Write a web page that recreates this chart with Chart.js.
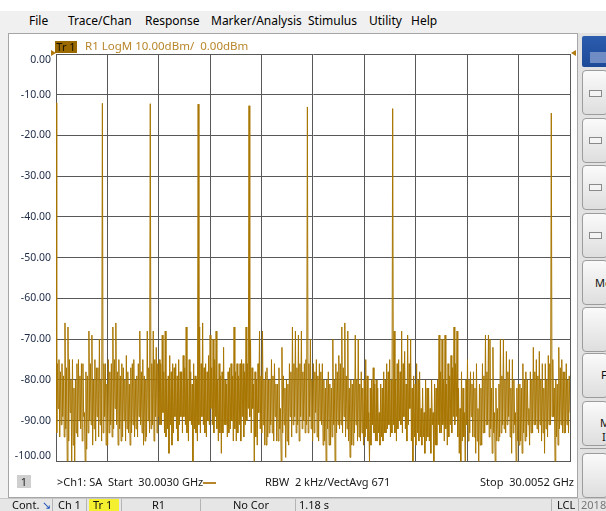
<!DOCTYPE html>
<html>
<head>
<meta charset="utf-8">
<script src="https://cdn.jsdelivr.net/npm/chart.js@4.4.1/dist/chart.umd.min.js"></script>
<style>
  html, body { margin: 0; padding: 0; }
  body {
    width: 606px; height: 511px; position: relative; overflow: hidden;
    background: #f0f0f0; font-family: "Noto Sans", sans-serif; color: #000;
  }
  .abs { position: absolute; white-space: nowrap; }
  .topstrip { left: 0; top: 0; width: 606px; height: 11px; background: #fff; }
  .menu span { position: absolute; top: 13px; font-size: 12px; line-height: 16px; }
  .panel { left: 8px; top: 33px; width: 570px; height: 465px; background: #fff; border: 1px solid #a6a6a6; box-sizing: border-box; }
  #chart { position: absolute; left: 10px; top: 34px; }
  .trbox { left: 55px; top: 41px; width: 22px; height: 12px; background: #9a6a00; color: #1a1200; font-size: 11px; line-height: 12px; text-align: center; }
  .trhead { left: 85px; top: 39px; font-size: 11.5px; line-height: 14px; color: #b8862a; }
  .tri-r { left: 51px; top: 50px; width: 0; height: 0; border-top: 3.5px solid transparent; border-bottom: 3.5px solid transparent; border-left: 5px solid #b07a10; }
  .tri-l { left: 571px; top: 50px; width: 0; height: 0; border-top: 3.5px solid transparent; border-bottom: 3.5px solid transparent; border-right: 5px solid #b07a10; }
  .chbox { left: 17px; top: 475px; width: 14px; height: 13px; background: #cfcfcf; font-size: 11px; line-height: 13px; text-align: center; color: #222; }
  .foot { top: 475px; font-size: 11px; line-height: 14px; color: #1a1a1a; }
  .golddash { left: 203px; top: 482px; width: 13px; height: 2px; background: #b8862a; }
  .side { left: 578px; top: 33px; width: 28px; height: 465px; background: #e2e2e2; }
  .bluebox { left: 582px; top: 36px; width: 24px; height: 31px; background: linear-gradient(#2c5cae, #1d4a98); border-radius: 2px 0 0 2px; }
  .bluein { left: 590px; top: 52px; width: 16px; height: 11px; background: #6f8cc4; }
  .btn { left: 582px; width: 26px; border: 1px solid #9c9c9c; border-radius: 4px; background: linear-gradient(#fafafa, #dedede); box-sizing: border-box; }
  .chk { left: 589px; width: 13px; height: 7px; border: 1px solid #8a8a8a; background: #f4f4f4; box-sizing: border-box; }
  .btxt { font-size: 11px; line-height: 14px; color: #111; }
  .status { left: 0; top: 498px; width: 606px; height: 13px; background: #e6e6e6; border-top: 1px solid #c8c8c8; box-sizing: border-box; }
  .st { top: 498px; font-size: 11px; line-height: 14px; color: #111; }
  .cell { top: 499px; width: 1px; height: 12px; background: #b4b4b4; }
</style>
</head>
<body>
<div class="abs topstrip"></div>
<div class="menu">
  <span style="left:29px">File</span>
  <span style="left:68px">Trace/Chan</span>
  <span style="left:145px">Response</span>
  <span style="left:211px">Marker/Analysis</span>
  <span style="left:308px">Stimulus</span>
  <span style="left:369px">Utility</span>
  <span style="left:411px">Help</span>
</div>

<div class="abs panel"></div>
<canvas id="chart" width="566" height="444"></canvas>

<div class="abs trbox">Tr 1</div>
<div class="abs trhead">R1 LogM 10.00dBm/&nbsp; 0.00dBm</div>
<div class="abs tri-r"></div>
<div class="abs tri-l"></div>

<div class="abs chbox">1</div>
<div class="abs foot" style="left:57px">&gt;Ch1: SA&nbsp; Start&nbsp; 30.0030 GHz</div>
<div class="abs golddash"></div>
<div class="abs foot" style="left:265px">RBW&nbsp; 2 kHz/VectAvg 671</div>
<div class="abs foot" style="left:480px">Stop&nbsp; 30.0052 GHz</div>

<div class="abs side"></div>
<div class="abs bluebox"></div>
<div class="abs bluein"></div>
<div class="abs btn" style="top:70px;height:45px"></div>
<div class="abs chk" style="top:90px"></div>
<div class="abs btn" style="top:118px;height:45px"></div>
<div class="abs chk" style="top:137px"></div>
<div class="abs btn" style="top:165px;height:45px"></div>
<div class="abs chk" style="top:184px"></div>
<div class="abs btn" style="top:213px;height:45px"></div>
<div class="abs chk" style="top:232px"></div>
<div class="abs btn" style="top:260px;height:45px"></div>
<div class="abs btxt" style="left:595px;top:276px">Mo</div>
<div class="abs btn" style="top:307px;height:45px"></div>
<div class="abs btn" style="top:353px;height:45px"></div>
<div class="abs btxt" style="left:601px;top:368px">F</div>
<div class="abs btn" style="top:401px;height:45px"></div>
<div class="abs btxt" style="left:600px;top:416px">M</div>
<div class="abs btxt" style="left:602px;top:430px">I</div>
<div class="abs" style="left:580px;top:448px;width:26px;height:1px;background:#9c9c9c"></div>
<div class="abs btn" style="top:453px;height:45px"></div>

<div class="abs status"></div>
<div class="abs st" style="left:12px">Cont.</div>
<div class="abs st" style="left:42px;color:#1a4fb8">&#8600;</div>
<div class="abs cell" style="left:52px"></div>
<div class="abs st" style="left:58px">Ch 1</div>
<div class="abs cell" style="left:86px"></div>
<div class="abs" style="left:89px;top:499px;width:30px;height:12px;background:#f4f030"></div>
<div class="abs st" style="left:93px">Tr 1</div>
<div class="abs cell" style="left:121px"></div>
<div class="abs st" style="left:152px">R1</div>
<div class="abs cell" style="left:200px"></div>
<div class="abs st" style="left:233px">No Cor</div>
<div class="abs cell" style="left:295px"></div>
<div class="abs st" style="left:299px">1.18 s</div>
<div class="abs cell" style="left:551px"></div>
<div class="abs st" style="left:557px">LCL</div>
<div class="abs cell" style="left:578px"></div>
<div class="abs st" style="left:581px;color:#777">2018</div>

<script>
// sweep settings (MHz)
const startMHz = 30003.0;
const stopMHz = 30005.2;
const gridDivisions = 10;

// y axis ticks (dBm)
const yTickValues = [-100, -90, -80, -70, -60, -50, -40, -30, -20, -10, 0];

// trace levels, evenly spaced across the sweep (dBm)
const traceDbm = [
  -12, -93, -76, -87, -75, -94, -78, -91, -76, -89, -79, -94, -66, -92, -77, -100, -67, -95, -75, -88,
  -80, -100, -75, -96, -82, -100, -80, -93, -76, -94, -75, -90, -79, -92, -76, -95, -76, -89, -88, -100,
  -78, -97, -79, -93, -68, -90, -76, -91, -69, -96, -80, -92, -75, -95, -77, -89, -77, -94, -70, -91,
  -80, -95, -12.1, -93, -76, -89, -76, -96, -81, -96, -75, -93, -78, -91, -76, -94, -67, -92, -75, -87,
  -66, -91, -78, -96, -75, -92, -79, -95, -76, -94, -77, -90, -80, -95, -74, -92, -78, -93, -81, -96,
  -77, -93, -76, -91, -75, -94, -80, -92, -79, -94, -76, -89, -68, -91, -78, -93, -75, -96, -79, -95,
  -80, -94, -68, -90, -77, -93, -12.2, -92, -76, -91, -68, -95, -75, -89, -72, -93, -76, -89, -75, -91,
  -76, -91, -69, -88, -78, -93, -68, -94, -80, -92, -79, -98, -74, -91, -78, -96, -76, -93, -77, -89,
  -76, -92, -79, -95, -75, -91, -78, -89, -78, -93, -74, -89, -77, -91, -67, -93, -80, -95, -75, -90,
  -78, -91, -81, -100, -76, -92, -79, -93, -80, -95, -12.3, -91, -67, -93, -76, -89, -66, -91, -77, -93,
  -76, -94, -78, -90, -74, -91, -69, -87, -77, -91, -70, -93, -75, -89, -68, -92, -80, -95, -76, -93,
  -79, -98, -78, -93, -72, -91, -80, -91, -81, -94, -78, -93, -77, -92, -76, -90, -79, -95, -67, -92,
  -78, -95, -76, -93, -79, -91, -76, -95, -75, -89, -76, -94, -78, -91, -67, -90, -76, -87, -12.7, -89,
  -70, -93, -77, -87, -81, -100, -78, -94, -80, -96, -76, -88, -68, -92, -79, -93, -68, -91, -80, -96,
  -78, -96, -77, -94, -80, -93, -80, -91, -75, -93, -79, -95, -76, -89, -81, -95, -81, -95, -77, -92,
  -87, -100, -72, -93, -79, -91, -82, -99, -80, -95, -81, -96, -76, -89, -78, -94, -67, -91, -76, -89,
  -68, -93, -77, -91, -69, -95, -76, -89, -68, -92, -78, -90, -76, -93, -75, -91, -13.0, -93, -76, -89,
  -70, -92, -80, -95, -76, -93, -78, -88, -75, -94, -79, -95, -76, -90, -78, -91, -76, -96, -80, -95,
  -82, -100, -80, -92, -78, -96, -81, -96, -82, -94, -70, -91, -80, -100, -76, -93, -78, -91, -74, -92,
  -76, -91, -67, -93, -77, -89, -66, -94, -79, -92, -68, -95, -82, -99, -80, -96, -81, -96, -80, -93,
  -69, -91, -80, -95, -70, -94, -81, -95, -78, -93, -82, -96, -80, -94, -75, -92, -79, -95, -88, -100,
  -82, -96, -80, -91, -77, -93, -81, -95, -80, -95, -82, -93, -88, -96, -81, -94, -82, -95, -78, -93,
  -80, -93, -76, -92, -78, -91, -75, -94, -80, -93, -13.4, -91, -68, -93, -80, -95, -76, -92, -75, -90,
  -78, -91, -68, -93, -76, -89, -73, -92, -81, -95, -69, -91, -76, -87, -70, -95, -82, -100, -79, -94,
  -81, -96, -76, -93, -80, -95, -78, -94, -87, -96, -82, -94, -88, -98, -80, -95, -82, -94, -82, -95,
  -87, -98, -80, -91, -88, -100, -81, -96, -82, -96, -80, -91, -69, -93, -78, -93, -70, -91, -80, -95,
  -69, -92, -81, -96, -76, -94, -79, -91, -74, -93, -77, -89, -67, -91, -76, -89, -68, -94, -82, -98,
  -87, -100, -78, -95, -82, -94, -88, -100, -80, -91, -75, -95, -80, -93, -78, -89, -81, -94, -78, -94,
  -82, -98, -76, -95, -87, -100, -81, -96, -82, -96, -76, -93, -79, -93, -69, -91, -78, -91, -69, -94,
  -70, -92, -82, -98, -72, -93, -88, -100, -82, -95, -87, -95, -81, -94, -70, -93, -79, -91, -70, -92,
  -80, -93, -73, -91, -78, -89, -75, -94, -82, -98, -75, -93, -80, -91, -88, -100, -82, -95, -81, -96,
  -81, -95, -82, -98, -76, -93, -80, -95, -78, -94, -80, -91, -87, -96, -78, -93, -80, -93, -72, -91,
  -78, -91, -75, -92, -79, -93, -73, -91, -80, -95, -76, -93, -82, -98, -76, -92, -80, -94, -74, -91,
  -76, -91, -14.5, -89, -75, -89, -82, -100, -80, -94, -81, -96, -72, -92, -77, -91, -75, -93, -78, -93,
  -78, -93, -76, -91, -80, -93, -79, -88
];

const stepMHz = (stopMHz - startMHz) / (traceDbm.length - 1);
const tracePoints = traceDbm.map((y, i) => ({ x: startMHz + i * stepMHz, y }));
const xGridValues = [];
for (let i = 0; i <= gridDivisions; i++) {
  xGridValues.push(startMHz + i * (stopMHz - startMHz) / gridDivisions);
}

const gridColor = "#585858";

// the analyzer prints the end labels inside the grid: push them half a line in
function yTickLabel(value) {
  const text = Number(value).toFixed(2);
  if (value === 0) return ["", text];
  if (value === -100) return [text, ""];
  return text;
}

new Chart(document.getElementById("chart"), {
  type: "line",
  data: {
    datasets: [{
      data: tracePoints,
      borderColor: "#a87600",
      borderWidth: 1,
      pointRadius: 0,
      tension: 0,
    }],
  },
  options: {
    responsive: false,
    animation: false,
    devicePixelRatio: 1,
    layout: { padding: { top: 20, bottom: 8, left: 0, right: 6 } },
    plugins: { legend: { display: false }, tooltip: { enabled: false } },
    scales: {
      x: {
        type: "linear",
        min: startMHz,
        max: stopMHz,
        afterBuildTicks: scale => { scale.ticks = xGridValues.map(value => ({ value })); },
        ticks: { display: false },
        grid: { color: gridColor, drawTicks: false },
        border: { color: gridColor },
      },
      y: {
        min: -100,
        max: 0,
        afterBuildTicks: scale => { scale.ticks = yTickValues.map(value => ({ value })); },
        afterFit: scale => { scale.width = 46; },
        ticks: {
          padding: 5,
          color: "#1c2a44",
          font: { family: "\"Noto Sans\", sans-serif", size: 10.5, lineHeight: 1.1 },
          callback: yTickLabel,
        },
        grid: { color: gridColor, drawTicks: false },
        border: { color: gridColor },
      },
    },
  },
});
</script>
</body>
</html>
